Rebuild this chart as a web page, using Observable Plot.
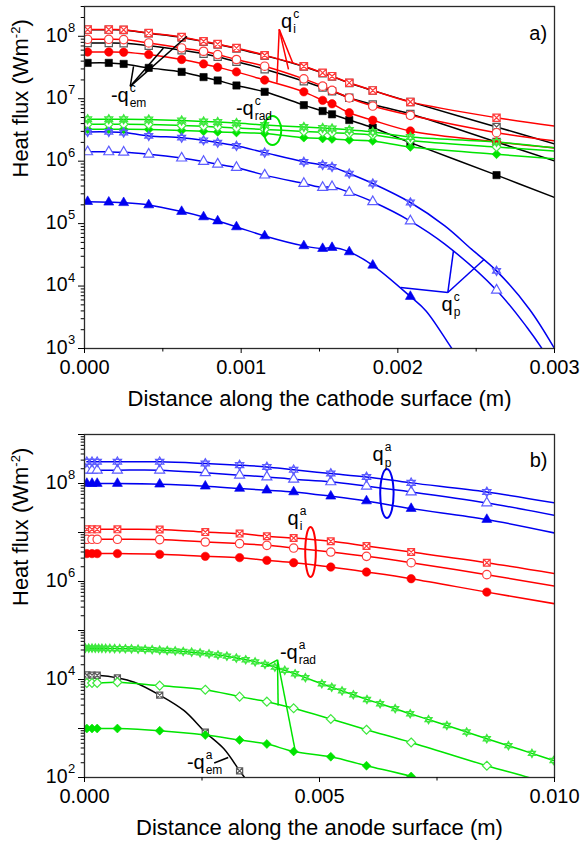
<!DOCTYPE html>
<html>
<head>
<meta charset="utf-8">
<script src="https://cdn.jsdelivr.net/npm/d3@7"></script>
<script src="https://cdn.jsdelivr.net/npm/@observablehq/plot@0.6"></script>
<style>
html,body{margin:0;padding:0;background:#fff;}
#chart{width:582px;height:847px;overflow:hidden;}
#chart svg{display:block;}
</style>
</head>
<body>
<div id="chart"></div>
<script>
// ---------- Panel a) cathode ----------
const xCathode = [0.00002, 0.000155, 0.00025, 0.00041, 0.00062, 0.00076, 0.00085, 0.00097, 0.00115, 0.00140, 0.00152, 0.00158, 0.00169, 0.00184, 0.00208, 0.00263];
const qemC1 = [3.75e7, 3.75e7, 3.61e7, 3.12e7, 2.69e7, 2.22e7, 1.96e7, 1.63e7, 1.29e7, 7.9e6, 6.35e6, 5.63e6, 4.56e6, 3.44e6, 1.98e6, 5.98e5];
const qemC2 = [7.82e7, 7.82e7, 7.73e7, 7.05e7, 5.98e7, 5.26e7, 4.71e7, 3.92e7, 2.97e7, 1.91e7, 1.51e7, 1.32e7, 1.04e7, 8.07e6, 5.69e6, 2.03e6];
const qemC3 = [1.27e8, 1.27e8, 1.26e8, 1.12e8, 9.6e7, 8.2e7, 7.4e7, 6.4e7, 4.9e7, 3.28e7, 2.57e7, 2.28e7, 1.78e7, 1.35e7, 8.9e6, 3.53e6];
const qiC1 = [5.61e7, 5.61e7, 5.56e7, 5.1e7, 4.25e7, 3.61e7, 3.2e7, 2.69e7, 1.99e7, 1.29e7, 9.42e6, 8.3e6, 5.97e6, 4.52e6, 3.05e6, 2.03e6];
const qiC2 = [8.95e7, 8.95e7, 8.85e7, 7.82e7, 6.5e7, 5.76e7, 5.1e7, 4.25e7, 3.32e7, 2.08e7, 1.59e7, 1.36e7, 1.03e7, 7.64e6, 5.42e6, 2.86e6];
const qiC3 = [1.28e8, 1.28e8, 1.27e8, 1.13e8, 9.75e7, 8.3e7, 7.5e7, 6.5e7, 4.98e7, 3.32e7, 2.6e7, 2.3e7, 1.8e7, 1.36e7, 8.9e6, 4.97e6];
const qradC1 = [3.24e6, 3.24e6, 3.24e6, 3.22e6, 3.1e6, 3.01e6, 2.94e6, 2.88e6, 2.78e6, 2.38e6, 2.31e6, 2.27e6, 2.19e6, 2.11e6, 1.69e6, 1.29e6];
const qradC2 = [3.9e6, 3.9e6, 3.9e6, 3.87e6, 3.73e6, 3.62e6, 3.53e6, 3.4e6, 3.22e6, 2.99e6, 2.9e6, 2.85e6, 2.78e6, 2.63e6, 2.15e6, 1.69e6];
const qradC3 = [4.69e6, 4.69e6, 4.69e6, 4.65e6, 4.48e6, 4.32e6, 4.24e6, 4.09e6, 3.8e6, 3.53e6, 3.4e6, 3.34e6, 3.16e6, 2.94e6, 2.44e6, 2.03e6];
const qpC1 = [2.25e5, 2.2e5, 2.16e5, 1.99e5, 1.56e5, 1.28e5, 1.1e5, 8.85e4, 6.35e4, 4.4e4, 3.98e4, 4.13e4, 3.52e4, 2.15e4, 6.8e3, null];
const qpC2 = [1.41e6, 1.41e6, 1.39e6, 1.29e6, 1.12e6, 9.86e5, 8.96e5, 7.9e5, 5.98e5, 4.39e5, 3.79e5, 3.89e5, 3.16e5, 2.24e5, 1.1e5, 8.6e3];
const qpC3 = [2.94e6, 2.94e6, 2.88e6, 2.54e6, 2.38e6, 2.16e6, 1.98e6, 1.76e6, 1.37e6, 9.76e5, 8.73e5, 8.11e5, 6.34e5, 4.39e5, 2.18e5, 1.75e4];
// curve points without symbols [x, value]
const qemC1Extra = [[0.003, 2.62e5]];
const qemC2Extra = [[0.003, 1.01e6]];
const qemC3Extra = [[0.003, 1.89e6]];
const qiC1Extra = [[0.003, 1.63e6]];
const qiC2Extra = [[0.003, 2.11e6]];
const qiC3Extra = [[0.003, 3.66e6]];
const qradC1Extra = [[0.003, 1.09e6]];
const qradC2Extra = [[0.003, 1.46e6]];
const qradC3Extra = [[0.003, 1.63e6]];
const qpC1Extra = [[0.00218, 4.0e3], [0.002345, 1.0e3], [0.00245, 4.2e2]];
const qpC2Extra = [[0.0023, 4.7e4], [0.002825, 2.17e3], [0.00292, 1.0e3], [0.003, 4.8e2]];
const qpC3Extra = [[0.0023, 9.2e4], [0.00247, 3.9e4], [0.00284, 4.26e3], [0.003, 1.0e3]];

// ---------- Panel b) anode ----------
const xAnode = [0.00005, 0.00016, 0.00027, 0.0007, 0.0016, 0.00257, 0.0033, 0.00388, 0.00445, 0.00524, 0.006, 0.00695, 0.00856];
const qpA1 = [1e8, 1e8, 1e8, 1e8, 9.68e7, 8.81e7, 7.91e7, 7.3e7, 6.73e7, 5.5e7, 4.4e7, 3.08e7, 1.84e7];
const qpA2 = [1.87e8, 1.87e8, 1.87e8, 1.87e8, 1.87e8, 1.65e8, 1.48e8, 1.36e8, 1.22e8, 1.08e8, 8.81e7, 6.73e7, 4.01e7];
const qpA3 = [2.77e8, 2.77e8, 2.77e8, 2.77e8, 2.77e8, 2.56e8, 2.37e8, 2.18e8, 1.9e8, 1.6e8, 1.36e8, 1.03e8, 6.73e7];
const qiA1 = [3.71e6, 3.71e6, 3.71e6, 3.71e6, 3.58e6, 3.26e6, 3.07e6, 2.7e6, 2.42e6, 1.97e6, 1.56e6, 1.14e6, 6.07e5];
const qiA2 = [7.26e6, 7.26e6, 7.26e6, 7.26e6, 7.16e6, 6.4e6, 5.93e6, 5.47e6, 4.82e6, 3.99e6, 3.26e6, 2.42e6, 1.38e6];
const qiA3 = [1.16e7, 1.16e7, 1.16e7, 1.16e7, 1.15e7, 1.02e7, 9.5e6, 8.36e6, 7.72e6, 6.61e6, 5.3e6, 3.99e6, 2.42e6];
const qradA1 = [1.0e3, 1.0e3, 1.0e3, 1.0e3, 902, 736, 582, 482, 340, 265, 174, 105, null];
const qradA2 = [8.5e3, 8.5e3, 8.5e3, 8.8e3, 7.5e3, 6.2e3, 4.47e3, 3.53e3, 2.58e3, 1.56e3, 944, 520, 174];
const xEmA = [0.00005, 0.00016, 0.00027, 0.0007, 0.0016, 0.00257, 0.0033];
const qemA = [1.24e4, 1.23e4, 1.22e4, 1.08e4, 4.8e3, 840, 137];
const xRadA3 = [0.00002, 0.00009, 0.00016, 0.00023, 0.0003, 0.00037, 0.00045, 0.00054, 0.00064, 0.00075, 0.00087, 0.001, 0.00114, 0.00129, 0.00144, 0.0016, 0.00176, 0.00193, 0.0021, 0.00228, 0.00246, 0.00265, 0.00284, 0.00303, 0.00323, 0.00343, 0.00363, 0.00384, 0.00405, 0.00426, 0.00448, 0.0047, 0.00505, 0.00526, 0.00548, 0.00572, 0.00601, 0.00629, 0.00661, 0.00693, 0.00732, 0.00771, 0.00813, 0.00856, 0.00902, 0.00952, 0.00998];
const qradA3 = [4.37e4, 4.37e4, 4.36e4, 4.35e4, 4.34e4, 4.33e4, 4.32e4, 4.3e4, 4.28e4, 4.26e4, 4.24e4, 4.22e4, 4.17e4, 4.11e4, 4.06e4, 3.98e4, 3.91e4, 3.84e4, 3.73e4, 3.61e4, 3.49e4, 3.33e4, 3.16e4, 2.99e4, 2.74e4, 2.53e4, 2.29e4, 2.04e4, 1.79e4, 1.54e4, 1.31e4, 1.09e4, 8.18e3, 6.95e3, 5.85e3, 4.88e3, 3.91e3, 3.2e3, 2.54e3, 2.0e3, 1.52e3, 1.15e3, 847, 619, 446, 311, 222];
const qpA1Extra = [[0.010, 9.77e6]];
const qpA2Extra = [[0.010, 2.25e7]];
const qpA3Extra = [[0.010, 4.01e7]];
const qiA1Extra = [[0.010, 3.52e5]];
const qiA2Extra = [[0.010, 8.06e5]];
const qiA3Extra = [[0.010, 1.45e6]];
const qradA1Extra = [[0.0075, 70]];
const qradA2Extra = [[0.00945, 100], [0.010, 67]];
const qemAExtra = [[0.00106, 8.8e3], [0.00212, 2.31e3], [0.00297, 381], [0.00345, 88]];

// ---------- ticks & texts ----------
const xTicksC = [0, 0.001, 0.002, 0.003];
const xMinorC = [0.0005, 0.0015, 0.0025];
const xTicksA = [0, 0.005, 0.010];
const xMinorA = [0.0025, 0.0075];
const yMajorC = [1e3, 1e4, 1e5, 1e6, 1e7, 1e8];
const yLabelC = [1e3, 1e4, 1e5, 1e6, 1e7, 1e8];
const yMajorA = [1e2, 1e3, 1e4, 1e5, 1e6, 1e7, 1e8, 1e9];
const yLabelA = [1e2, 1e4, 1e6, 1e8];
const xTitleC = "Distance along the cathode surface (m)";
const xTitleA = "Distance along the anode surface (m)";
const yTitle = "Heat flux (Wm^-2)";

const labelsC = [
  {x: 0.001326, y: 1.73e8, main: "q", sub: "i", sup: "c"},
  {x: 0.000282, y: 1.14e7, main: "-q", sub: "em", sup: "c"},
  {x: 0.00108, y: 7.0e6, main: "-q", sub: "rad", sup: "c"},
  {x: 0.00235, y: 5.1e3, main: "q", sub: "p", sup: "c"}
];
const labelsA = [
  {x: 0.006366, y: 3.8e8, main: "q", sub: "p", sup: "a"},
  {x: 0.004557, y: 1.92e7, main: "q", sub: "i", sup: "a"},
  {x: 0.004536, y: 3.6e4, main: "-q", sub: "rad", sup: "a"},
  {x: 0.002557, y: 203, main: "-q", sub: "em", sup: "a"}
];
// pointer lines [x1, y1, x2, y2]
const ptrQiC = [[0.001243, 1.29e8, 0.001228, 1.8e7], [0.001243, 1.29e8, 0.001302, 2.95e7], [0.001243, 1.29e8, 0.00133, 3.7e7]];
const ptrQemC = [[0.000292, 1.58e7, 0.000313, 3.3e7], [0.000292, 1.58e7, 0.000504, 6.5e7], [0.000292, 1.58e7, 0.000654, 1.0e8]];
const ptrQpC = [[0.002319, 7.87e3, 0.002018, 9.46e3], [0.002319, 7.87e3, 0.002355, 3.65e4], [0.002319, 7.87e3, 0.002552, 2.69e4]];
const ptrQradA = [[0.004106, 2.52e4, 0.00388, 1.92e4], [0.004106, 2.52e4, 0.00412, 2.93e3], [0.004106, 2.52e4, 0.00448, 368]];
const ptrQemA = [[0.00276, 197, 0.003057, 256]];
const ovalQradC = [0.0012, 3.1e6];
const ovalQpA = [0.006434, 6.24e7];
const ovalQiA = [0.004809, 4.0e6];

// ---------- styling ----------
const FONT = "'Liberation Sans', Arial, Helvetica, sans-serif";
const RED = "#ff0000", GREEN = "#00e400", BLUE = "#0000f0", BLACK = "#000000";
const O_RED = "#ff3b3b", O_GREEN = "#3ee83e", O_BLUE = "#5c5cff", O_BLACK = "#5a5a5a";

const symSquareX = {draw(ctx, size) {
  const s = Math.sqrt(size / Math.PI) * 0.85;
  ctx.moveTo(-s, -s); ctx.lineTo(s, -s); ctx.lineTo(s, s); ctx.lineTo(-s, s); ctx.closePath();
  ctx.moveTo(-s, -s); ctx.lineTo(s, s); ctx.moveTo(s, -s); ctx.lineTo(-s, s);
}};
const symHex = {draw(ctx, size) {
  const r = Math.sqrt(size / Math.PI) * 1.15;
  for (const a0 of [-90, 90]) {
    for (let k = 0; k < 3; k++) {
      const a = (a0 + k * 120) * Math.PI / 180;
      const px = r * Math.cos(a), py = r * Math.sin(a);
      if (k === 0) ctx.moveTo(px, py); else ctx.lineTo(px, py);
    }
    ctx.closePath();
  }
}};
function ellipseSym(rx, ry) {
  const k = 0.5523;
  return {draw(ctx) {
    ctx.moveTo(rx, 0);
    ctx.bezierCurveTo(rx, ry * k, rx * k, ry, 0, ry);
    ctx.bezierCurveTo(-rx * k, ry, -rx, ry * k, -rx, 0);
    ctx.bezierCurveTo(-rx, -ry * k, -rx * k, -ry, 0, -ry);
    ctx.bezierCurveTo(rx * k, -ry, rx, -ry * k, rx, 0);
    ctx.closePath();
  }};
}

function series(xs, ys, extra, o) {
  const p = xs.map((x, i) => ({x, y: ys[i]})).filter(d => d.y != null);
  const l = p.concat(extra.map(([x, y]) => ({x, y}))).sort((a, b) => a.x - b.x);
  const line = Plot.line(l, {x: "x", y: "y", stroke: o.color, strokeWidth: 1.5, curve: "catmull-rom", clip: true});
  const dot = o.kind === "filled"
    ? Plot.dot(p, {x: "x", y: "y", symbol: o.shape, fill: o.color, stroke: o.color, strokeWidth: 0.6, r: o.r, clip: true})
    : Plot.dot(p, {x: "x", y: "y", symbol: o.shape, fill: o.fill || "white", stroke: o.open, strokeWidth: 1.2, r: o.r, clip: true});
  return {line, dot};
}

function minorTicks(lo, hi) {
  const t = [];
  for (let e = Math.floor(Math.log10(lo)); e <= Math.ceil(Math.log10(hi)); e++)
    for (let m = 2; m <= 9; m++) { const v = m * Math.pow(10, e); if (v > lo && v <= hi * 1.0001) t.push(v); }
  return t;
}

function axesMarks(xT, xM, yMaj, yLab, yDomain, xTitle, fmt) {
  return [
    Plot.frame({stroke: "#2a2a2a", strokeWidth: 1.3}),
    Plot.axisX({ticks: xT, tickSize: 5, tickPadding: 6, tickFormat: fmt, fontSize: 20, label: null}),
    Plot.axisX({ticks: xM, tickSize: 3.5, tickFormat: () => "", label: null}),
    Plot.axisY({ticks: yMaj, tickSize: 6, tickFormat: () => "", label: null}),
    Plot.axisY({ticks: minorTicks(yDomain[0], yDomain[1]), tickSize: 3.3, tickFormat: () => "", label: null}),
    Plot.text(yLab, {frameAnchor: "left", y: d => d, text: () => "10", textAnchor: "end", dx: -17, dy: -1, fontSize: 19.5}),
    Plot.text(yLab, {frameAnchor: "left", y: d => d, text: d => String(Math.round(Math.log10(d))), textAnchor: "start", dx: -16.5, dy: -8.5, fontSize: 13}),
    Plot.text([xTitle], {frameAnchor: "bottom", text: d => d, dy: 57, fontSize: 22}),
    Plot.text([yTitle], {frameAnchor: "left", text: d => d, rotate: -90, dx: -64, fontSize: 22})
  ];
}

function labelMarks(labels) {
  return [
    Plot.text(labels, {x: "x", y: "y", text: "main", textAnchor: "end", fontSize: 20}),
    Plot.text(labels, {x: "x", y: "y", text: "sub", textAnchor: "start", dx: 1, dy: 8, fontSize: 12}),
    Plot.text(labels, {x: "x", y: "y", text: "sup", textAnchor: "start", dx: 1, dy: -7.5, fontSize: 12})
  ];
}
function ptr(data, color) {
  return Plot.link(data, {x1: d => d[0], y1: d => d[1], x2: d => d[2], y2: d => d[3], stroke: color, strokeWidth: 1.5});
}
function oval(c, rx, ry, color) {
  return Plot.dot([c], {x: d => d[0], y: d => d[1], symbol: ellipseSym(rx, ry), fill: "none", stroke: color, strokeWidth: 2});
}

const style = {fontFamily: FONT, fontSize: "20px", background: "white", color: "black", overflow: "visible"};

// ---------- Panel a ----------
const sC = [
  series(xCathode, qemC1, qemC1Extra, {color: BLACK, kind: "filled", shape: "square", r: 4.1}),
  series(xCathode, qemC2, qemC2Extra, {color: BLACK, open: O_BLACK, kind: "open", shape: "square", r: 4.1}),
  series(xCathode, qemC3, qemC3Extra, {color: BLACK, open: O_BLACK, kind: "open", shape: symSquareX, r: 4.3}),
  series(xCathode, qiC1, qiC1Extra, {color: RED, kind: "filled", shape: "circle", r: 4.2}),
  series(xCathode, qiC2, qiC2Extra, {color: RED, open: O_RED, kind: "open", shape: "circle", r: 4.2}),
  series(xCathode, qiC3, qiC3Extra, {color: RED, open: O_RED, kind: "open", shape: symSquareX, r: 4.3}),
  series(xCathode, qradC1, qradC1Extra, {color: GREEN, kind: "filled", shape: "diamond2", r: 4.0}),
  series(xCathode, qradC2, qradC2Extra, {color: GREEN, open: O_GREEN, kind: "open", shape: "diamond2", r: 4.0}),
  series(xCathode, qradC3, qradC3Extra, {color: GREEN, open: O_GREEN, kind: "open", shape: symHex, fill: "none", r: 4.0}),
  series(xCathode, qpC1, qpC1Extra, {color: BLUE, kind: "filled", shape: "triangle", r: 3.7}),
  series(xCathode, qpC2, qpC2Extra, {color: BLUE, open: O_BLUE, kind: "open", shape: "triangle", r: 3.7}),
  series(xCathode, qpC3, qpC3Extra, {color: BLUE, open: O_BLUE, kind: "open", shape: symHex, fill: "none", r: 4.0})
];
const yDomC = [1e3, 3e8];
const plotC = Plot.plot({
  width: 582, height: 420, marginTop: 6, marginBottom: 72, marginLeft: 84, marginRight: 28,
  style,
  x: {domain: [0, 0.003]},
  y: {type: "log", domain: yDomC},
  marks: [
    ...sC.map(s => s.line),
    ...sC.map(s => s.dot),
    ptr(ptrQiC, RED), ptr(ptrQemC, BLACK), ptr(ptrQpC, BLUE),
    oval(ovalQradC, 8.8, 14.5, GREEN),
    ...labelMarks(labelsC),
    Plot.text(["a)"], {x: () => 0.002896, y: () => 1.12e8, text: d => d, fontSize: 20}),
    ...axesMarks(xTicksC, xMinorC, yMajorC, yLabelC, yDomC, xTitleC, d3.format(".3f"))
  ]
});

// ---------- Panel b ----------
const sA = [
  series(xEmA, qemA, qemAExtra, {color: BLACK, open: O_BLACK, kind: "open", shape: symSquareX, r: 3.6}),
  series(xAnode, qradA1, qradA1Extra, {color: GREEN, kind: "filled", shape: "diamond2", r: 4.0}),
  series(xAnode, qradA2, qradA2Extra, {color: GREEN, open: O_GREEN, kind: "open", shape: "diamond2", r: 4.0}),
  series(xRadA3, qradA3, [], {color: GREEN, open: O_GREEN, kind: "open", shape: symHex, fill: "none", r: 3.6}),
  series(xAnode, qiA1, qiA1Extra, {color: RED, kind: "filled", shape: "circle", r: 4.2}),
  series(xAnode, qiA2, qiA2Extra, {color: RED, open: O_RED, kind: "open", shape: "circle", r: 4.2}),
  series(xAnode, qiA3, qiA3Extra, {color: RED, open: O_RED, kind: "open", shape: symSquareX, r: 4.0}),
  series(xAnode, qpA1, qpA1Extra, {color: BLUE, kind: "filled", shape: "triangle", r: 3.7}),
  series(xAnode, qpA2, qpA2Extra, {color: BLUE, open: O_BLUE, kind: "open", shape: "triangle", r: 3.7}),
  series(xAnode, qpA3, qpA3Extra, {color: BLUE, open: O_BLUE, kind: "open", shape: symHex, fill: "none", r: 4.2})
];
const yDomA = [1e2, 1e9];
const plotA = Plot.plot({
  width: 582, height: 427, marginTop: 14, marginBottom: 70, marginLeft: 84, marginRight: 28,
  style,
  x: {domain: [0, 0.010]},
  y: {type: "log", domain: yDomA},
  marks: [
    ...sA.map(s => s.line),
    ...sA.map(s => s.dot),
    ptr(ptrQradA, GREEN), ptr(ptrQemA, BLACK),
    oval(ovalQpA, 6.7, 24.5, BLUE), oval(ovalQiA, 5.3, 25, RED),
    ...labelMarks(labelsA),
    Plot.text(["b)"], {x: () => 0.00966, y: () => 3.0e8, text: d => d, fontSize: 20}),
    ...axesMarks(xTicksA, xMinorA, yMajorA, yLabelA, yDomA, xTitleA, d3.format(".3f"))
  ]
});

const chart = document.getElementById("chart");
chart.appendChild(plotC);
chart.appendChild(plotA);

// superscript in the y-axis title
d3.select(chart).selectAll("text").each(function() {
  if (this.textContent === yTitle) {
    const t = d3.select(this);
    t.text(null);
    t.append("tspan").text("Heat flux (Wm");
    t.append("tspan").attr("dy", -8).attr("font-size", 13).text("-2");
    t.append("tspan").attr("dy", 8).text(")");
  }
});
</script>
</body>
</html>
